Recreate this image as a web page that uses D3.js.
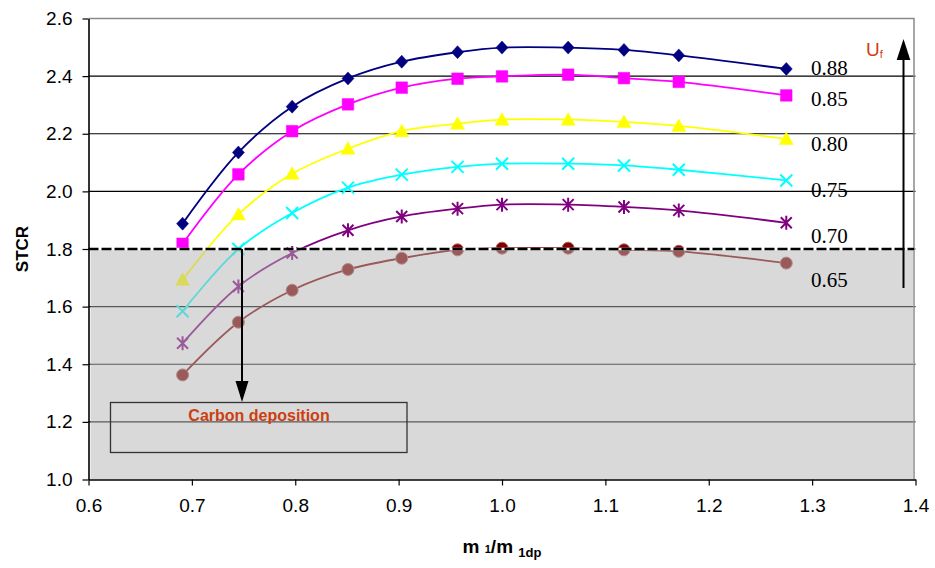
<!DOCTYPE html>
<html>
<head>
<meta charset="utf-8">
<script src="https://cdn.jsdelivr.net/npm/d3@7/dist/d3.min.js"></script>
<style>
  body { margin: 0; background: #fff; }
  svg { display: block; }
</style>
</head>
<body>
<svg id="chart" width="935" height="568"></svg>
<script>
// m1/m1dp values along the x axis
const massRatio = [0.691, 0.745, 0.797, 0.851, 0.903, 0.957, 1.000, 1.064, 1.118, 1.171, 1.275];

// STCR for each fuel utilisation Uf
const stcrUf088 = [1.888, 2.135, 2.294, 2.392, 2.450, 2.483, 2.499, 2.499, 2.491, 2.472, 2.425];
const stcrUf085 = [1.818, 2.059, 2.209, 2.302, 2.360, 2.391, 2.399, 2.405, 2.393, 2.380, 2.333];
const stcrUf080 = [1.693, 1.920, 2.061, 2.148, 2.209, 2.235, 2.249, 2.249, 2.241, 2.227, 2.182];
const stcrUf075 = [1.584, 1.800, 1.925, 2.013, 2.058, 2.085, 2.096, 2.096, 2.090, 2.075, 2.038];
const stcrUf070 = [1.473, 1.670, 1.786, 1.865, 1.913, 1.940, 1.954, 1.954, 1.946, 1.934, 1.891];
const stcrUf065 = [1.363, 1.546, 1.657, 1.729, 1.768, 1.797, 1.803, 1.803, 1.797, 1.792, 1.751];

const ufLabels = ["0.88", "0.85", "0.80", "0.75", "0.70", "0.65"];

const xTicks = [0.6, 0.7, 0.8, 0.9, 1.0, 1.1, 1.2, 1.3, 1.4];
const yTicks = [1.0, 1.2, 1.4, 1.6, 1.8, 2.0, 2.2, 2.4, 2.6];

// STCR below which carbon deposits
const carbonLimit = 1.8;
// x position of the arrow into the carbon region
const carbonArrowX = 0.7485;

// ---- styling ----
const sans = "Arial, 'Liberation Sans', sans-serif";
const serif = "'Times New Roman', 'Liberation Serif', serif";
const noteColor = "rgb(204,64,16)";

const seriesStyle = [
  { color: "#000080", marker: "diamond" },
  { color: "#FF00FF", marker: "square" },
  { color: "#FFFF00", marker: "triangle" },
  { color: "#00FFFF", marker: "cross" },
  { color: "#800080", marker: "star" },
  { color: "#800000", marker: "circle" }
];
// label offset below the last point of each curve
const labelDy = [6, 11, 12, 17, 20, 24];

const allSeries = [stcrUf088, stcrUf085, stcrUf080, stcrUf075, stcrUf070, stcrUf065];

const svg = d3.select("#chart");

const x = d3.scaleLinear().domain([0.6, 1.4]).range([88.5, 915.5]);
const y = d3.scaleLinear().domain([1.0, 2.6]).range([479.5, 18.5]);
const [x0, x1] = x.range();
const [yb, yt] = y.range();

// horizontal grid lines
svg.append("g")
  .selectAll("line")
  .data(yTicks.filter(v => v > 1.0 && v < 2.6))
  .join("line")
  .attr("x1", x0).attr("x2", x1)
  .attr("y1", d => y(d)).attr("y2", d => y(d))
  .attr("stroke", "#000").attr("stroke-width", 1.2);

// plot border (top and right)
svg.append("path")
  .attr("d", `M${x0},${yt}H${x1 - 1.5}V${yb}`)
  .attr("fill", "none").attr("stroke", "#8a8a8a").attr("stroke-width", 1.5);

// curves
const line = d3.line()
  .x((d, i) => x(massRatio[i]))
  .y(d => y(d))
  .curve(d3.curveCatmullRom.alpha(0.5));

const symbolPath = (type) => {
  switch (type) {
    case "diamond": return "M0,-6.5L6,0L0,6.5L-6,0Z";
    case "square": return "M-5.8,-5.8H5.8V5.8H-5.8Z";
    case "triangle": return "M0,-7L7,5.5H-7Z";
    case "cross": return "M-6,-6L6,6M-6,6L6,-6";
    case "star": return "M-5.5,-5.5L5.5,5.5M-5.5,5.5L5.5,-5.5M0,-7V7";
    case "circle": return d3.symbol(d3.symbolCircle, 113)();
  }
};

allSeries.forEach((vals, s) => {
  const st = seriesStyle[s];
  svg.append("path")
    .datum(vals)
    .attr("d", line)
    .attr("fill", "none")
    .attr("stroke", st.color)
    .attr("stroke-width", 1.8);

  const stroked = st.marker === "cross" || st.marker === "star";
  const isCircle = st.marker === "circle";
  svg.append("g")
    .selectAll("path")
    .data(vals)
    .join("path")
    .attr("transform", (d, i) => `translate(${x(massRatio[i])},${y(d)})`)
    .attr("d", symbolPath(st.marker))
    .attr("fill", stroked ? "none" : st.color)
    .attr("stroke", isCircle ? "#b06060" : st.color)
    .attr("stroke-width", stroked ? 2 : (isCircle ? 1 : 0.5));
});

// shaded carbon-deposition region
svg.append("rect")
  .attr("x", x0 + 2)
  .attr("y", y(carbonLimit))
  .attr("width", x1 - x0 - 3.5)
  .attr("height", yb - y(carbonLimit))
  .attr("fill", "rgb(179,179,179)")
  .attr("opacity", 0.5);

// carbon limit line
svg.append("line")
  .attr("x1", x0).attr("x2", x1 - 1.5)
  .attr("y1", y(carbonLimit)).attr("y2", y(carbonLimit))
  .attr("stroke", "#fff").attr("stroke-width", 2.5);
svg.append("line")
  .attr("x1", x0).attr("x2", x1 - 1.5)
  .attr("y1", y(carbonLimit)).attr("y2", y(carbonLimit))
  .attr("stroke", "#000").attr("stroke-width", 2.5)
  .attr("stroke-dasharray", "10,3");

// axes
const yAxis = svg.append("g")
  .attr("transform", `translate(${x0},0)`)
  .call(d3.axisLeft(y).tickValues(yTicks).tickFormat(d3.format(".1f")).tickSize(6).tickPadding(10).tickSizeOuter(0));
const xAxis = svg.append("g")
  .attr("transform", `translate(0,${yb})`)
  .call(d3.axisBottom(x).tickValues(xTicks).tickFormat(d3.format(".1f")).tickSize(6).tickPadding(13).tickSizeOuter(0));
[yAxis, xAxis].forEach(g => {
  g.select(".domain").attr("stroke", "#000").attr("stroke-width", 1.6);
  g.selectAll(".tick line").attr("stroke", "#000").attr("stroke-width", 1.2);
  g.selectAll(".tick text").attr("fill", "#000").style("font-family", sans).style("font-size", "19px");
});

// axis titles
svg.append("text")
  .attr("transform", `translate(28,${(yb + yt) / 2}) rotate(-90)`)
  .attr("text-anchor", "middle")
  .style("font-family", sans).style("font-size", "17px").style("font-weight", "bold")
  .text("STCR");

const xTitle = svg.append("text")
  .attr("x", (x0 + x1) / 2).attr("y", 553)
  .attr("text-anchor", "middle")
  .style("font-family", sans).style("font-weight", "bold").style("font-size", "19px");
xTitle.append("tspan").text("m ");
xTitle.append("tspan").attr("dy", 0).style("font-size", "11px").text("1");
xTitle.append("tspan").attr("dy", 0).text("/m ");
xTitle.append("tspan").attr("dy", 4).style("font-size", "13px").text("1dp");

// Uf labels at the end of each curve
allSeries.forEach((vals, s) => {
  svg.append("text")
    .attr("x", 811)
    .attr("y", y(vals[vals.length - 1]) + labelDy[s])
    .style("font-family", serif).style("font-size", "21px")
    .attr("fill", "#000")
    .text(ufLabels[s]);
});

// increasing Uf arrow
const ufX = 903.5;
svg.append("line")
  .attr("x1", ufX).attr("x2", ufX)
  .attr("y1", 288).attr("y2", 58)
  .attr("stroke", "#000").attr("stroke-width", 2);
svg.append("path")
  .attr("d", `M${ufX},39L${ufX + 6.8},60H${ufX - 6.8}Z`)
  .attr("fill", "#000");
const ufText = svg.append("text")
  .attr("x", 866).attr("y", 56)
  .style("font-family", sans).style("font-size", "19px").attr("fill", noteColor);
ufText.append("tspan").text("U");
ufText.append("tspan").attr("dy", 2).style("font-size", "11px").text("f");

// arrow down into the carbon-deposition box
const ax = x(carbonArrowX);
svg.append("line")
  .attr("x1", ax).attr("x2", ax)
  .attr("y1", y(carbonLimit)).attr("y2", 384)
  .attr("stroke", "#000").attr("stroke-width", 2);
svg.append("path")
  .attr("d", `M${ax},402L${ax + 6.5},381H${ax - 6.5}Z`)
  .attr("fill", "#000");

svg.append("rect")
  .attr("x", 110.5).attr("y", 402.5)
  .attr("width", 296.5).attr("height", 50)
  .attr("fill", "none").attr("stroke", "#333").attr("stroke-width", 1.3);
svg.append("text")
  .attr("x", 259).attr("y", 421)
  .attr("text-anchor", "middle")
  .style("font-family", sans).style("font-size", "16px").style("font-weight", "bold")
  .attr("fill", noteColor)
  .text("Carbon deposition");
</script>
</body>
</html>
